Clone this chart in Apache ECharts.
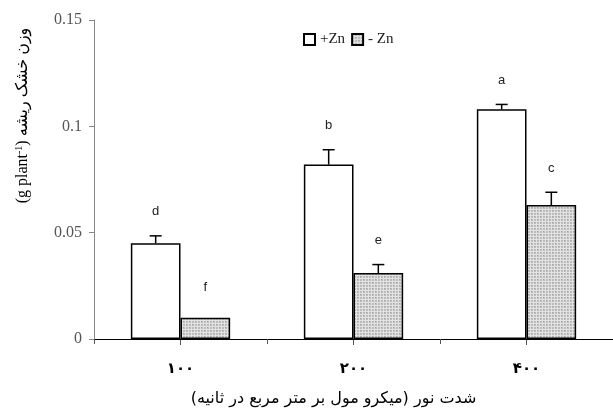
<!DOCTYPE html>
<html><head><meta charset="utf-8">
<script src="https://cdn.jsdelivr.net/npm/echarts@6/dist/echarts.min.js"></script>
<style>html,body{margin:0;padding:0;background:#fff}#c{width:613px;height:412px}</style>
</head><body><div id="c"></div>
<script>
var categories = ['\u06F1\u06F0\u06F0', '\u06F2\u06F0\u06F0', '\u06F4\u06F0\u06F0'];
var plusZn = [0.045, 0.082, 0.108];
var plusZnErr = [0.0035, 0.007, 0.0023];
var minusZn = [0.010, 0.031, 0.063];
var minusZnErr = [0.0, 0.004, 0.006];
var plusLetters = ['d', 'b', 'a'];
var minusLetters = ['f', 'e', 'c'];
var seriesNames = ['+Zn', '- Zn'];
var yTicks = [0, 0.05, 0.1, 0.15];
var xAxisTitle = 'شدت نور (میکرو مول بر متر مربع در ثانیه)';

// checkered grey pattern
var pc = document.createElement('canvas');
pc.width = 6; pc.height = 6;
var g = pc.getContext('2d');
g.fillStyle = '#bcbcbc'; g.fillRect(0, 0, 6, 6);
g.fillStyle = '#e2e2e2';
g.fillRect(0, 2, 6, 1); g.fillRect(2, 0, 1, 6);
g.fillRect(0, 5, 6, 1); g.fillRect(5, 0, 1, 6);
g.fillStyle = '#a0a0a0';
g.fillRect(0, 0, 1, 1); g.fillRect(3, 3, 1, 1);
var pattern = { image: pc, repeat: 'repeat' };

var BARW = 0.287;
function errSeries(vals, errs, letters, side) {
  return {
    type: 'custom',
    silent: true,
    clip: false,
    z: 5,
    data: vals.map(function (v, i) { return [i, v, errs[i]]; }),
    renderItem: function (params, api) {
      var i = api.value(0), v = api.value(1), e = api.value(2);
      var band = api.size([1, 0])[0];
      var c = api.coord([i, v]);
      var base = api.coord([i, 0]);
      var x = c[0] + side * band * BARW / 2;
      var top = api.coord([i, v + e])[1];
      var children = [];
      if (side < 0) {
        // mid-category tick under the axis
        children.push({ type: 'line', shape: { x1: base[0], y1: base[1] + 1, x2: base[0], y2: base[1] + 6 }, style: { stroke: '#555', lineWidth: 1 } });
      }
      if (e > 0) {
        children.push({ type: 'line', shape: { x1: x, y1: c[1], x2: x, y2: top }, style: { stroke: '#000', lineWidth: 1.5 } });
        children.push({ type: 'line', shape: { x1: x - 6, y1: top, x2: x + 6, y2: top }, style: { stroke: '#000', lineWidth: 1.5 } });
      }
      children.push({ type: 'text', x: x, y: top - (e > 0 ? 24 : 30), style: { text: letters[i], fill: '#222', font: '13px "Liberation Sans", Arial, sans-serif', align: 'center', verticalAlign: 'middle' } });
      return { type: 'group', children: children };
    }
  };
}

var chart = echarts.init(document.getElementById('c'), null, { renderer: 'canvas' });
chart.setOption({
  animation: false,
  backgroundColor: '#fff',
  textStyle: { fontFamily: '"Liberation Serif", "Times New Roman", serif' },
  grid: { left: 94, width: 522, top: 20, bottom: 68 },
  legend: {
    left: 298, top: 27,
    itemWidth: 11, itemHeight: 11, itemGap: 6,
    textStyle: { fontFamily: '"Liberation Serif", serif', fontSize: 15, color: '#222' },
    data: seriesNames.map(function (n) { return { name: n, icon: 'rect' }; })
  },
  xAxis: {
    type: 'category',
    data: categories,
    axisLine: { lineStyle: { color: '#000', width: 1.2 } },
    axisTick: { show: true, length: 5, lineStyle: { color: '#555' } },
    axisLabel: { margin: 23, fontSize: 15, fontWeight: 'bold', color: '#000', fontFamily: '"DejaVu Sans", sans-serif' },
    name: xAxisTitle,
    nameLocation: 'middle',
    nameGap: 52,
    nameTextStyle: { fontSize: 16, color: '#000', fontFamily: '"DejaVu Sans", serif', padding: [0, 40, 0, 0] }
  },
  yAxis: {
    type: 'value',
    min: yTicks[0], max: yTicks[yTicks.length - 1], interval: 0.05,
    splitLine: { show: false },
    axisLine: { show: true, lineStyle: { color: '#888', width: 1 } },
    axisTick: { show: true, length: 5, lineStyle: { color: '#888' } },
    axisLabel: { margin: 12, fontSize: 16, color: '#555', fontFamily: '"Liberation Serif", serif' },
    name: '{a|(g plant}{s|-1}{a|) وزن خشک ریشه}',
    nameLocation: 'middle',
    nameRotate: 90,
    nameGap: 62,
    nameTextStyle: {
      padding: [0, 0, 0, 128],
      rich: {
        a: { fontSize: 16, color: '#000', fontFamily: '"Liberation Serif", "DejaVu Sans", serif' },
        s: { fontSize: 10, color: '#000', verticalAlign: 'top', padding: [0, 0, 8, 0], fontFamily: '"Liberation Serif", serif' }
      }
    }
  },
  series: [
    {
      name: seriesNames[0], type: 'bar', data: plusZn,
      barWidth: (BARW * 100) + '%', barGap: '0%',
      itemStyle: { color: '#fff', borderColor: '#000', borderWidth: 1.5 }
    },
    {
      name: seriesNames[1], type: 'bar', data: minusZn,
      barWidth: (BARW * 100) + '%', barGap: '0%',
      itemStyle: { color: pattern, borderColor: '#000', borderWidth: 1.5 }
    },
    errSeries(plusZn, plusZnErr, plusLetters, -1),
    errSeries(minusZn, minusZnErr, minusLetters, 1)
  ]
});
</script></body></html>
